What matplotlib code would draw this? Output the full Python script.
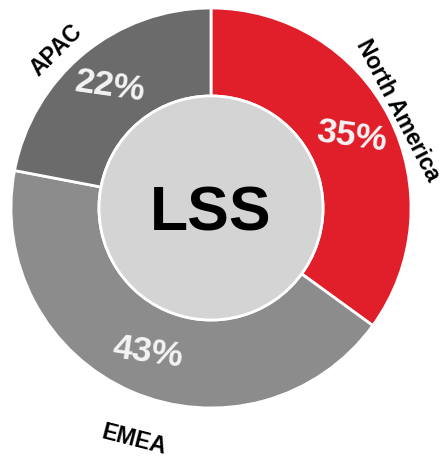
import numpy as np
import matplotlib
matplotlib.use("Agg")
import matplotlib.pyplot as plt
from matplotlib.patches import Circle

regions = ["North America", "EMEA", "APAC"]
shares = [35, 43, 22]
colors = ["#e01f2b", "#8c8c8c", "#6b6b6b"]
center_text = "LSS"

# label placement styling (radius factor, angle offset deg, rotation offset)
label_radius = [1.055, 1.22, 1.105]
label_dang = [0.5, 5.0, 5.0]
label_rot = [-90, 94, -90]

plt.rcParams['font.family'] = ['Liberation Sans', 'DejaVu Sans']
fig = plt.figure(figsize=(4.46, 4.61), dpi=100)
ax = fig.add_axes([0, 0, 1, 1])
ax.set_xlim(0, 446)
ax.set_ylim(0, 461)
ax.set_aspect('equal')
ax.axis('off')

cx, cy, R = 211, 461 - 208, 200
wedges, texts, autotexts = ax.pie(
    shares, colors=colors, startangle=90, counterclock=False,
    center=(cx, cy), radius=R, autopct='%d%%', pctdistance=0.79,
    wedgeprops=dict(width=88, edgecolor='white', linewidth=2),
    textprops=dict(color='#f4f4f4', fontsize=25.5, fontweight='bold'))
for t in autotexts:
    t.set_rotation(-8)

ax.add_patch(Circle((cx, cy), 112, facecolor='#d4d4d4', edgecolor='white', linewidth=2, zorder=3))
ax.text(cx, cy - 6, center_text, ha='center', va='center', fontsize=45,
        fontweight='bold', color='black', zorder=4)

for w, name, rf, da, ro in zip(wedges, regions, label_radius, label_dang, label_rot):
    mid = (w.theta1 + w.theta2) / 2 + da
    x = cx + R * rf * np.cos(np.radians(mid))
    y = cy + R * rf * np.sin(np.radians(mid))
    ax.text(x, y, name, ha='center', va='center', rotation=mid + ro,
            rotation_mode='anchor', fontsize=16.5, fontweight='bold', color='black')

ax.set_xlim(0, 446)
ax.set_ylim(0, 461)
fig.savefig("out.png", dpi=100)
